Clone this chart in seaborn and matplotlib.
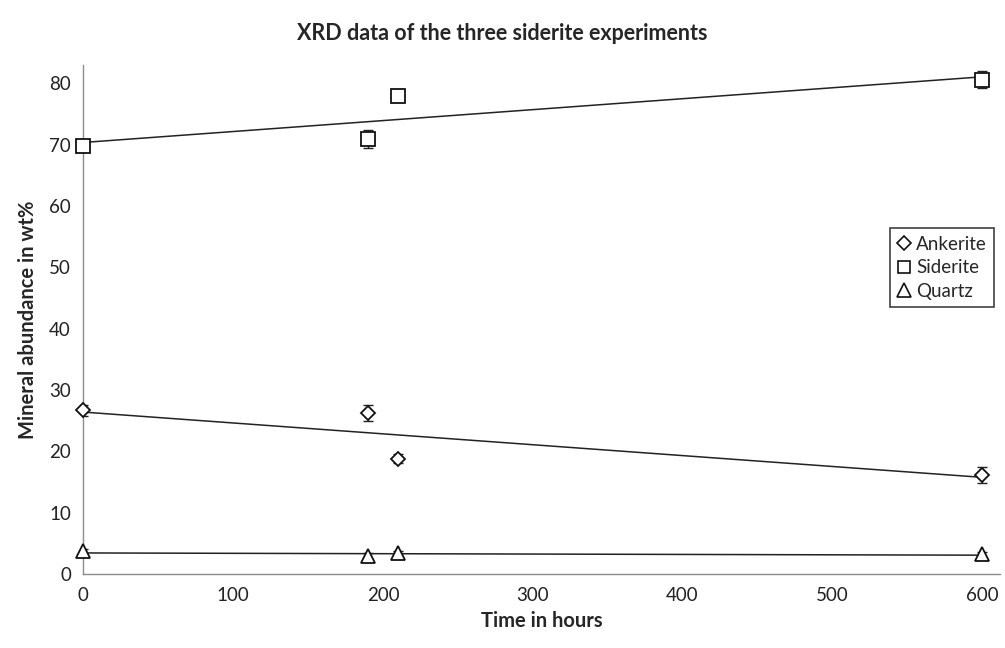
import numpy as np
import pandas as pd
import seaborn as sns
import matplotlib.pyplot as plt
from matplotlib.lines import Line2D

# values
hours = [0, 190, 210, 600]
ankerite = [26.7, 26.3, 18.8, 16.1]
siderite = [69.8, 70.9, 77.9, 80.6]
quartz = [3.7, 2.9, 3.4, 3.2]
ankerite_err = [0.9, 1.3, 0.7, 1.3]
siderite_err = [0.9, 1.4, 0.7, 1.4]
quartz_err = [0.4, 0.5, 0.4, 0.4]

minerals = ["Ankerite", "Siderite", "Quartz"]
markers = {"Ankerite": "D", "Siderite": "s", "Quartz": "^"}
sizes = {"Ankerite": 7.5, "Siderite": 10, "Quartz": 10.5}

df = pd.DataFrame({
    "hours": hours * 3,
    "wt": ankerite + siderite + quartz,
    "err": ankerite_err + siderite_err + quartz_err,
    "mineral": [m for m in minerals for _ in hours],
})

sns.set_style("white")
plt.rcParams["font.family"] = ["Lato", "DejaVu Sans"]

fig = plt.figure(figsize=(10.05, 6.48), dpi=100)
ax = fig.add_axes([0.083, 0.114, 0.912, 0.786])

for m in minerals:
    sub = df[df.mineral == m]
    # trendline
    sns.regplot(data=sub, x="hours", y="wt", scatter=False, ci=None, ax=ax,
                line_kws={"color": "#222222", "linewidth": 1.1}, truncate=True)
    ax.errorbar(sub.hours, sub.wt, yerr=sub.err, fmt="none", ecolor="#222222",
                elinewidth=1, capsize=3.5, zorder=3)
    ax.plot(sub.hours, sub.wt, linestyle="none", marker=markers[m],
            markersize=sizes[m], markerfacecolor="white",
            markeredgecolor="#111111", markeredgewidth=1.3, zorder=4,
            clip_on=False)

ax.set_xlim(0, 612)
ax.set_ylim(0, 83)
ax.set_xticks([0, 100, 200, 300, 400, 500, 600])
ax.set_yticks(range(0, 81, 10))
for s in ["top", "right"]:
    ax.spines[s].set_visible(False)
for s in ["left", "bottom"]:
    ax.spines[s].set_color("#8c8c8c")
    ax.spines[s].set_linewidth(1)
ax.tick_params(axis="both", direction="out", length=5, width=1,
               color="#8c8c8c", labelsize=13.5, labelcolor="#222222", pad=4)

ax.set_xlabel("Time in hours", fontsize=14.5, fontweight="bold", labelpad=5)
ax.set_ylabel("Mineral abundance in wt%", fontsize=14.5, fontweight="bold", labelpad=8)
fig.suptitle("XRD data of the three siderite experiments", fontsize=15.5,
             fontweight="bold", y=0.965)

handles = [Line2D([], [], linestyle="none", marker=markers[m],
                  markersize=sizes[m] * 0.9, markerfacecolor="white",
                  markeredgecolor="#111111", markeredgewidth=1.2)
           for m in minerals]
leg = ax.legend(handles, minerals, loc="upper right",
                bbox_to_anchor=(1.0, 0.69), fontsize=13.5, frameon=True,
                fancybox=False, handlelength=0.7, handletextpad=0.3,
                borderpad=0.4, labelspacing=0.35, borderaxespad=0.3)
leg.get_frame().set_edgecolor("#111111")
leg.get_frame().set_linewidth(1.2)

fig.savefig("out.png", dpi=100)
